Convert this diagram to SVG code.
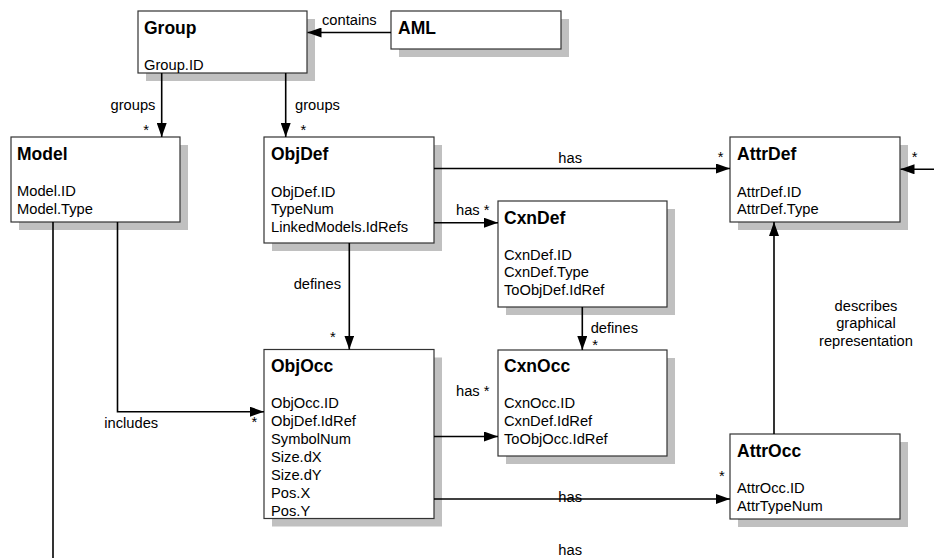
<svg xmlns="http://www.w3.org/2000/svg" width="934" height="558" viewBox="0 0 934 558">
<style>
.sh{fill:#c0c0c0}
.bx{fill:#fff;stroke:#333;stroke-width:1.2}
.t{font-family:"Liberation Sans",Arial,sans-serif;font-size:17.5px;font-weight:bold;fill:#000}
.b{font-family:"Liberation Sans",Arial,sans-serif;font-size:14.7px;fill:#000}
.l{font-family:"Liberation Sans",Arial,sans-serif;font-size:14.7px;fill:#000}
.c{fill:none;stroke:#000;stroke-width:1.6}
.a{marker-end:url(#arr)}
</style>
<defs>
<marker id="arr" markerUnits="userSpaceOnUse" markerWidth="14" markerHeight="10" refX="14" refY="5" orient="auto">
<path d="M0,0 L14,5 L0,10 z" fill="#000"/>
</marker>
</defs>
<rect width="934" height="558" fill="#fff"/>

<g id="node-group">
<rect class="sh" x="146" y="19" width="169" height="62"/>
<rect class="bx" x="138" y="11" width="169" height="62"/>
<text class="t" x="144" y="33.5">Group</text>
<text class="b" x="144" y="70">Group.ID</text>
</g>

<g id="node-aml">
<rect class="sh" x="399" y="19" width="170" height="38"/>
<rect class="bx" x="391" y="11" width="170" height="38"/>
<text class="t" x="398" y="33.5">AML</text>
</g>

<g id="node-model">
<rect class="sh" x="19" y="145" width="169" height="85"/>
<rect class="bx" x="11" y="137" width="169" height="85"/>
<text class="t" x="17" y="159.5">Model</text>
<text class="b" x="17" y="196">Model.ID</text>
<text class="b" x="17" y="213.8">Model.Type</text>
</g>

<g id="node-objdef">
<rect class="sh" x="272" y="145" width="170" height="106"/>
<rect class="bx" x="264" y="137" width="170" height="106"/>
<text class="t" x="271" y="159.5">ObjDef</text>
<text class="b" x="271" y="196.5">ObjDef.ID</text>
<text class="b" x="271" y="214.3">TypeNum</text>
<text class="b" x="271" y="232.1">LinkedModels.IdRefs</text>
</g>

<g id="node-cxndef">
<rect class="sh" x="506" y="209" width="169" height="106"/>
<rect class="bx" x="498" y="201" width="169" height="106"/>
<text class="t" x="504" y="223.5">CxnDef</text>
<text class="b" x="504" y="259.5">CxnDef.ID</text>
<text class="b" x="504" y="277.3">CxnDef.Type</text>
<text class="b" x="504" y="295.1">ToObjDef.IdRef</text>
</g>

<g id="node-attrdef">
<rect class="sh" x="738" y="145" width="170" height="85"/>
<rect class="bx" x="730" y="137" width="170" height="85"/>
<text class="t" x="737" y="159.5">AttrDef</text>
<text class="b" x="737" y="196.5">AttrDef.ID</text>
<text class="b" x="737" y="214.3">AttrDef.Type</text>
</g>

<g id="node-objocc">
<rect class="sh" x="272" y="357.5" width="170" height="169"/>
<rect class="bx" x="264" y="349.5" width="170" height="169"/>
<text class="t" x="271" y="372">ObjOcc</text>
<text class="b" x="271" y="408">ObjOcc.ID</text>
<text class="b" x="271" y="426">ObjDef.IdRef</text>
<text class="b" x="271" y="444">SymbolNum</text>
<text class="b" x="271" y="462">Size.dX</text>
<text class="b" x="271" y="480">Size.dY</text>
<text class="b" x="271" y="498">Pos.X</text>
<text class="b" x="271" y="516">Pos.Y</text>
</g>

<g id="node-cxnocc">
<rect class="sh" x="506" y="358" width="169" height="106"/>
<rect class="bx" x="498" y="350" width="169" height="106"/>
<text class="t" x="504" y="372.3">CxnOcc</text>
<text class="b" x="504" y="408">CxnOcc.ID</text>
<text class="b" x="504" y="426">CxnDef.IdRef</text>
<text class="b" x="504" y="444">ToObjOcc.IdRef</text>
</g>

<g id="node-attrocc">
<rect class="sh" x="738" y="442" width="170" height="85"/>
<rect class="bx" x="730" y="434" width="170" height="85"/>
<text class="t" x="737" y="456.5">AttrOcc</text>
<text class="b" x="737" y="493.3">AttrOcc.ID</text>
<text class="b" x="737" y="511.1">AttrTypeNum</text>
</g>

<g id="connectors">
<line class="c a" x1="391" y1="32.5" x2="307.5" y2="32.5"/>
<text class="l" x="322" y="25">contains</text>

<line class="c a" x1="161.7" y1="73" x2="161.7" y2="137"/>
<text class="l" x="110.5" y="110">groups</text>
<text class="l" x="143.3" y="135">*</text>

<line class="c a" x1="285.7" y1="73" x2="285.7" y2="137"/>
<text class="l" x="295" y="110">groups</text>
<text class="l" x="300.5" y="135">*</text>

<line class="c a" x1="434" y1="168.5" x2="730" y2="168.5"/>
<text class="l" x="558.3" y="163">has</text>
<text class="l" x="717.7" y="162">*</text>

<line class="c a" x1="934" y1="169.3" x2="900.5" y2="169.3"/>
<text class="l" x="911.7" y="162">*</text>

<line class="c a" x1="434" y1="222.7" x2="498" y2="222.7"/>
<text class="l" x="456" y="215">has *</text>

<line class="c a" x1="349.3" y1="243" x2="349.3" y2="349.5"/>
<text class="l" x="293.7" y="289.3">defines</text>
<text class="l" x="330" y="342">*</text>

<line class="c a" x1="582.3" y1="307" x2="582.3" y2="350"/>
<text class="l" x="590.7" y="333.3">defines</text>
<text class="l" x="592.3" y="350">*</text>

<line class="c a" x1="434" y1="436.5" x2="498" y2="436.5"/>
<text class="l" x="456" y="395.7">has *</text>

<line class="c a" x1="434" y1="499" x2="730" y2="499"/>
<text class="l" x="558.3" y="502.3">has</text>
<text class="l" x="719" y="481">*</text>

<line class="c a" x1="774" y1="434" x2="774" y2="222"/>
<text class="l" x="866" y="310.5" text-anchor="middle">describes</text>
<text class="l" x="866" y="328.3" text-anchor="middle">graphical</text>
<text class="l" x="866" y="346.1" text-anchor="middle">representation</text>

<polyline class="c a" points="117.5,222 117.5,411.7 264,411.7"/>
<text class="l" x="104.3" y="428.3">includes</text>
<text class="l" x="251.5" y="427">*</text>

<line class="c" x1="53" y1="222" x2="53" y2="558"/>
<text class="l" x="558.3" y="555">has</text>
</g>
</svg>
